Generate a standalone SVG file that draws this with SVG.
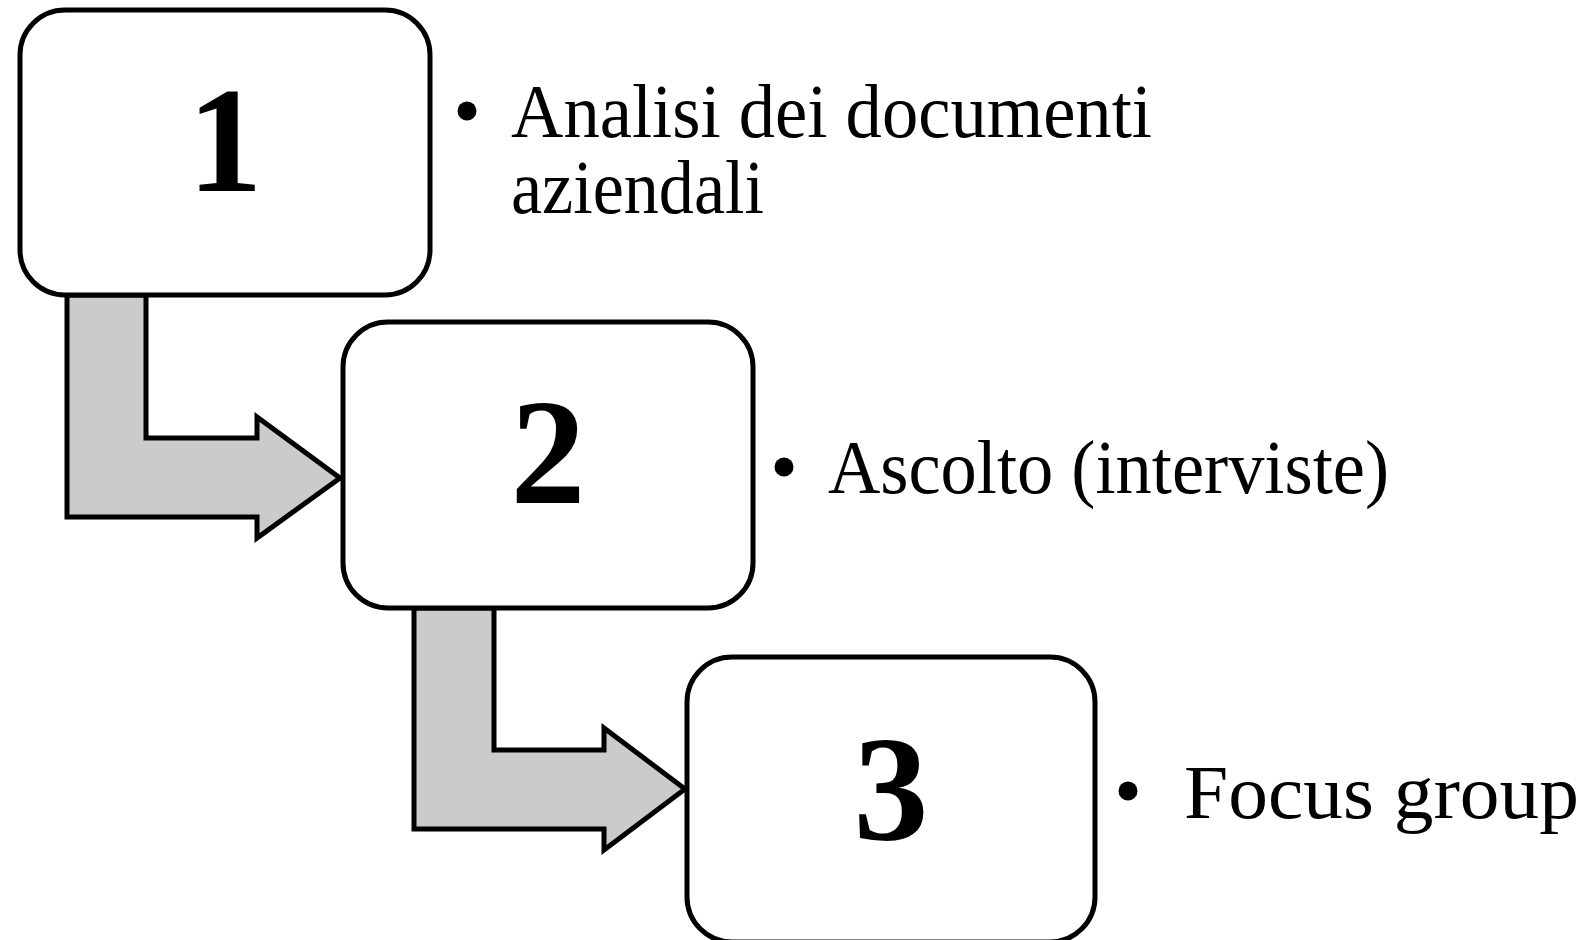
<svg xmlns="http://www.w3.org/2000/svg" width="1587" height="940" viewBox="0 0 1587 940">
<style>
.box{fill:#fff;stroke:#000;stroke-width:5}
.arrow{fill:#cbcbcb;stroke:#000;stroke-width:5;stroke-linejoin:miter}
.num{font-family:"Liberation Serif","Times New Roman",serif;font-weight:bold;font-size:150px;fill:#000;text-anchor:middle}
.lbl{font-family:"Liberation Serif","Times New Roman",serif;font-size:76px;fill:#000}
.dot{fill:#000}
</style>
<rect width="1587" height="940" fill="#fff"/>
<g id="connectors">
<polygon class="arrow" points="67,295 146,295 146,438 257,438 257,417 340,478 257,538 257,517 67,517"/>
<polygon class="arrow" points="414,608 494,608 494,750 604,750 604,728 685,789 604,850 604,829 414,829"/>
</g>
<g id="node1">
<rect class="box" x="20" y="10" width="410" height="285" rx="45" ry="45"/>
<text class="num" x="225" y="191">1</text>
</g>
<g id="node2">
<rect class="box" x="343" y="322" width="410" height="286" rx="45" ry="45"/>
<text class="num" x="548" y="503">2</text>
</g>
<g id="node3">
<rect class="box" x="687" y="657" width="408" height="285" rx="45" ry="45"/>
<text class="num" x="891" y="840">3</text>
</g>
<g id="label1">
<circle class="dot" cx="467" cy="111" r="9.5"/>
<text class="lbl" x="511" y="137" textLength="641" lengthAdjust="spacingAndGlyphs">Analisi dei documenti</text>
<text class="lbl" x="511" y="213" textLength="253" lengthAdjust="spacingAndGlyphs">aziendali</text>
</g>
<g id="label2">
<circle class="dot" cx="784" cy="467" r="9.5"/>
<text class="lbl" x="828" y="493" textLength="561" lengthAdjust="spacingAndGlyphs">Ascolto (interviste)</text>
</g>
<g id="label3">
<circle class="dot" cx="1128" cy="791" r="9.5"/>
<text class="lbl" x="1184" y="818" textLength="395" lengthAdjust="spacingAndGlyphs">Focus group</text>
</g>
</svg>
